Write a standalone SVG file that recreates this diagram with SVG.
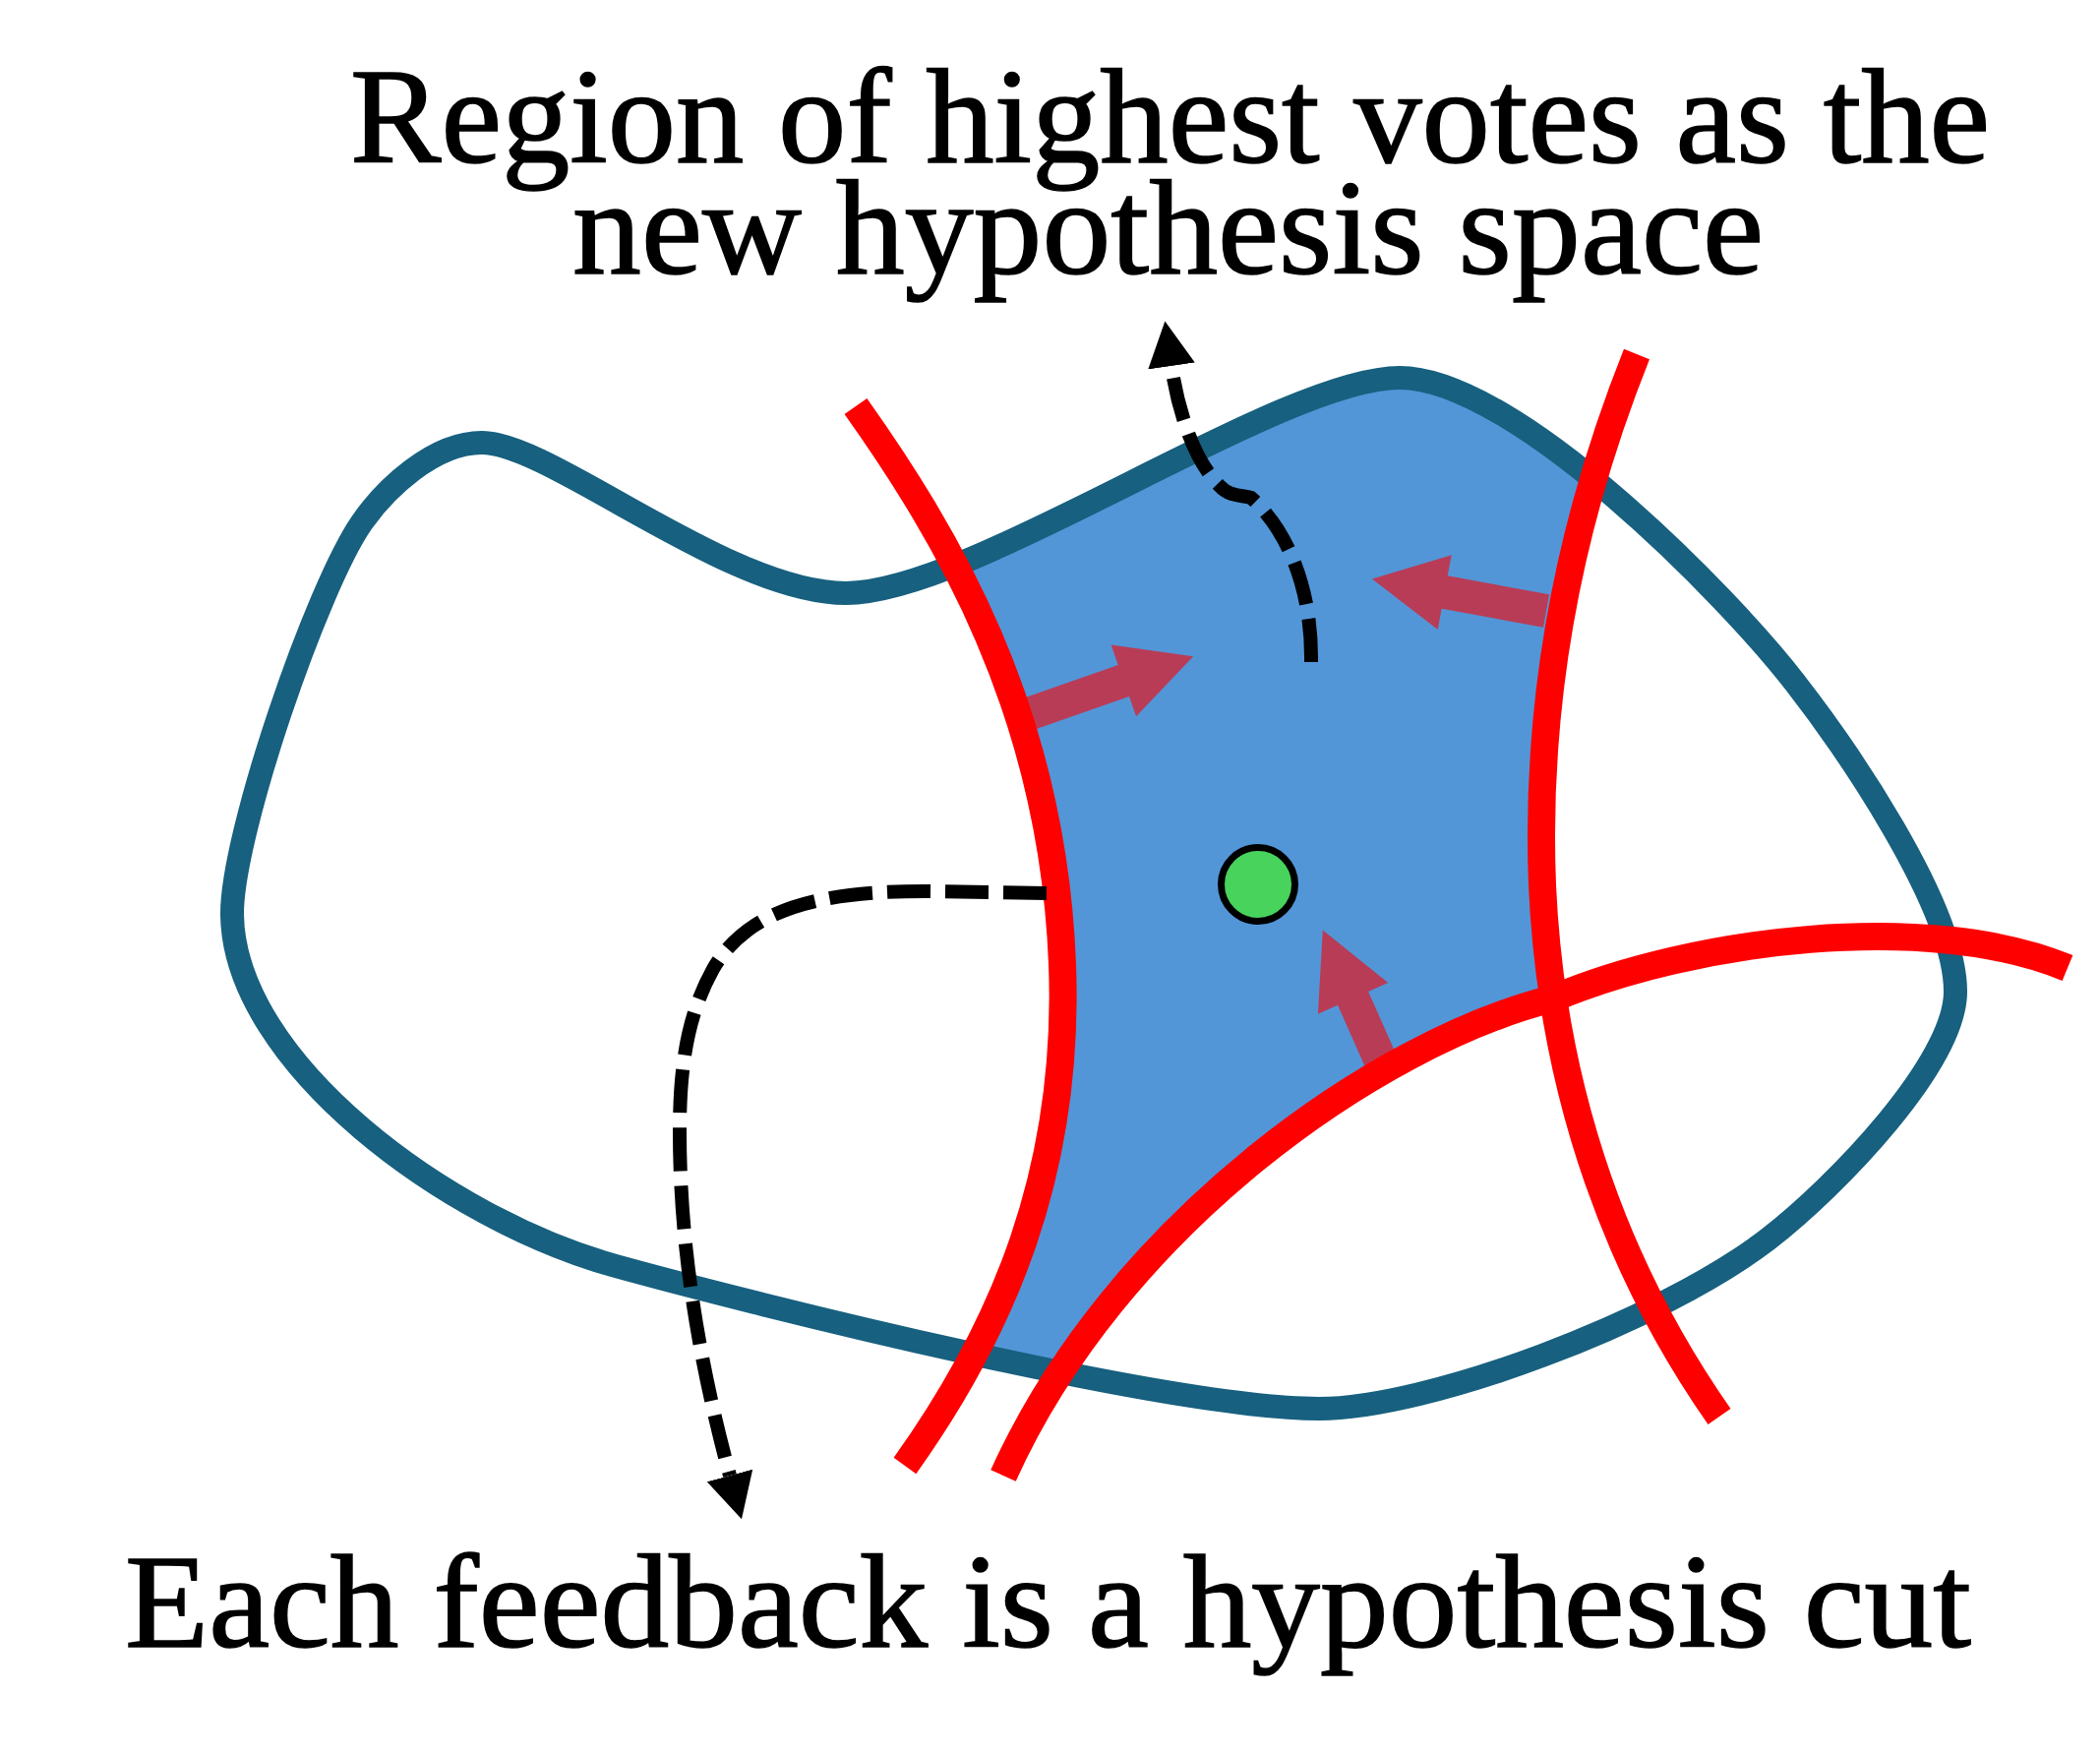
<svg xmlns="http://www.w3.org/2000/svg" width="2135" height="1782" viewBox="0 0 2135 1782">
<style>
.lbl{font-family:"Liberation Serif","Times New Roman",serif;fill:#000;stroke:#000;stroke-width:1.5;}
.cut{fill:none;stroke:#ff0000;stroke-width:28;stroke-linecap:butt;}
.dash{fill:none;stroke:#000;stroke-width:14;stroke-dasharray:44 15;}
.push{fill:#b93c56;}
</style>
<defs>
<path id="outline" d="M490 450 C560 450,740 603,860 603 C990 603,1300 384,1423 384 C1540 384,1758 607,1825 694 C1874 757,1988 920,1988 1008 C1988 1080,1868 1205,1797 1260 C1686 1345,1450 1432,1341 1432 C1190 1432,771 1327,626 1287 C455 1240,238 1080,236 930 C235 850,322 597,368 531 C391 498,440 450,490 450 Z"/>
<clipPath id="kept">
<path d="M860 250 L870 413 C960 540,1070 720,1080 980 C1088 1190,1020 1350,920 1490 L1020 1500 C1135 1245,1400 1060,1579 1015 L1568 900 C1560 700,1600 520,1664 360 L1680 250 Z"/>
</clipPath>
<marker id="ah" markerUnits="userSpaceOnUse" markerWidth="46" markerHeight="48" viewBox="0 0 44 46" refX="0" refY="23" orient="auto">
<path d="M0 0 L44 23 L0 46 Z" fill="#000"/>
</marker>
</defs>

<g id="hypothesis-space">
<use href="#outline" fill="#5296d8" clip-path="url(#kept)"/>
<use href="#outline" fill="none" stroke="#17607f" stroke-width="24"/>
</g>

<g id="vote-arrows">
<polygon class="push" transform="translate(1048 725) rotate(-19.3)" points="0,-17 100,-17 100,-38.5 175,0 100,38.5 100,17 0,17"/>
<polygon class="push" transform="translate(1572 621) rotate(-169.6)" points="0,-17 105,-17 105,-38.5 180,0 105,38.5 105,17 0,17"/>
<polygon class="push" transform="translate(1408 1088) rotate(-113.9)" points="0,-17 80,-17 80,-39 156,0 80,39 80,17 0,17"/>
</g>

<g id="cuts">
<path id="cut-left" class="cut" d="M870 413 C960 540,1070 720,1080 980 C1088 1190,1020 1350,920 1490"/>
<path id="cut-right" class="cut" d="M1664 360 C1600 520,1560 700,1568 900 C1578 1120,1650 1300,1748 1440"/>
<path id="cut-bottom" class="cut" d="M1020 1500 C1135 1245,1400 1060,1579 1015 C1720 955,1960 925,2102 984"/>
</g>

<g id="connectors">
<path id="to-bottom-label" class="dash" marker-end="url(#ah)" d="M1064 908 L940 906 C830 906,760 925,725 985 C700 1030,691 1080,691 1150 C691 1280,715 1400,742 1500"/>
<path id="to-top-label" class="dash" marker-end="url(#ah)" d="M1333 673 C1334 600,1310 540,1272 506 C1262 503,1250 505,1240 494 C1215 470,1198 420,1191 372"/>
</g>

<g id="optimum">
<circle cx="1279" cy="899" r="37.5" fill="#48d35d" stroke="#000" stroke-width="7"/>
</g>

<g id="top-label">
<text class="lbl" x="356" y="165" font-size="138" textLength="1667" lengthAdjust="spacingAndGlyphs">Region of highest votes as the</text>
<text class="lbl" x="582" y="278" font-size="138" textLength="1211" lengthAdjust="spacingAndGlyphs">new hypothesis space</text>
</g>

<g id="bottom-label">
<text class="lbl" x="127" y="1674" font-size="136" textLength="1877" lengthAdjust="spacingAndGlyphs">Each feedback is a hypothesis cut</text>
</g>
</svg>
